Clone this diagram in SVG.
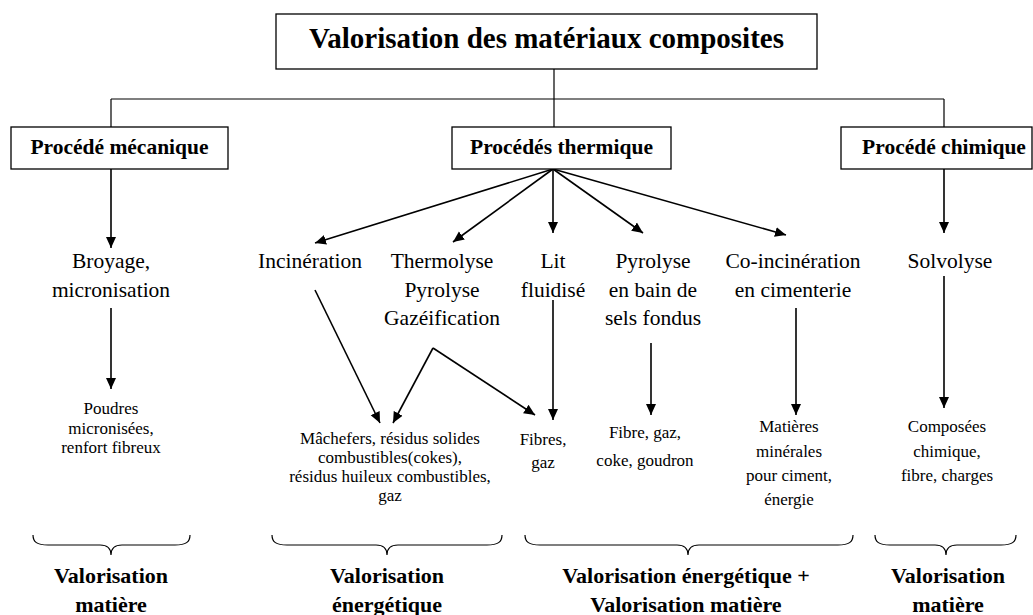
<svg xmlns="http://www.w3.org/2000/svg" width="1033" height="615" viewBox="0 0 1033 615">
<style>
text{font-family:'Liberation Serif',serif;fill:#000;text-anchor:middle}
.title{font-size:29px;font-weight:bold}
.box{fill:#fff;stroke:#000;stroke-width:1.3}
.hd{font-size:21.5px;font-weight:bold}
.lg{font-size:21.5px}
.sm{font-size:17px}
.bt{font-size:22px;font-weight:bold}
.ln{fill:none;stroke:#000;stroke-width:1.2}
.ar{fill:none;stroke:#000;stroke-width:1.6;marker-end:url(#ah)}
.br{fill:none;stroke:#000;stroke-width:1.2}
</style>
<defs>
<marker id="ah" markerUnits="userSpaceOnUse" markerWidth="12" markerHeight="12" viewBox="0 0 12 12" refX="11" refY="6" orient="auto">
<path d="M0,1 L11,6 L0,11 Z" fill="#000"/>
</marker>
</defs>
<g id="connectors">
<path class="ln" d="M554,69 V99 M111,99 H944 M111,99 V127 M554,99 V127 M944,99 V127"/>
<line class="ar" x1="111" y1="169" x2="111" y2="248"/>
<line class="ar" x1="111" y1="308" x2="111" y2="389"/>
<line class="ar" x1="553" y1="169" x2="315" y2="243"/>
<line class="ar" x1="553" y1="169" x2="453" y2="242"/>
<line class="ar" x1="553" y1="169" x2="553" y2="233"/>
<line class="ar" x1="553" y1="169" x2="643" y2="233"/>
<line class="ar" x1="553" y1="169" x2="786" y2="235"/>
<line class="ar" x1="944" y1="169" x2="944" y2="233"/>
<line class="ar" x1="315" y1="290" x2="380" y2="423"/>
<line class="ar" x1="433" y1="348" x2="393" y2="423"/>
<line class="ar" x1="433" y1="348" x2="535" y2="415"/>
<line class="ar" x1="553" y1="300" x2="553" y2="420"/>
<line class="ar" x1="651" y1="343" x2="651" y2="415"/>
<line class="ar" x1="796" y1="308" x2="796" y2="415"/>
<line class="ar" x1="944" y1="276" x2="944" y2="408"/>
</g>
<g id="title">
<rect class="box" x="276" y="14" width="541" height="55"/>
<text class="title" x="546.5" y="48">Valorisation des matériaux composites</text>
</g>
<g id="meca">
<rect class="box" x="11" y="127" width="217" height="42"/>
<text class="hd" x="119.5" y="154">Procédé mécanique</text>
</g>
<g id="thermique">
<rect class="box" x="452" y="127" width="219" height="42"/>
<text class="hd" x="561.5" y="154">Procédés thermique</text>
</g>
<g id="chimique">
<rect class="box" x="841" y="127" width="191" height="42"/>
<text class="hd" x="944" y="154">Procédé chimique</text>
</g>
<g id="broyage">
<text class="lg" x="111" y="268">Broyage,</text>
<text class="lg" x="111" y="297">micronisation</text>
</g>
<g id="incineration">
<text class="lg" x="310" y="268">Incinération</text>
</g>
<g id="thermolyse">
<text class="lg" x="442" y="268">Thermolyse</text>
<text class="lg" x="442" y="297">Pyrolyse</text>
<text class="lg" x="442" y="325">Gazéification</text>
</g>
<g id="lit">
<text class="lg" x="553" y="268">Lit</text>
<text class="lg" x="553" y="297">fluidisé</text>
</g>
<g id="pyrolyse">
<text class="lg" x="653" y="268">Pyrolyse</text>
<text class="lg" x="653" y="297">en bain de</text>
<text class="lg" x="653" y="325">sels fondus</text>
</g>
<g id="coincineration">
<text class="lg" x="793" y="268">Co-incinération</text>
<text class="lg" x="793" y="297">en cimenterie</text>
</g>
<g id="solvolyse">
<text class="lg" x="950" y="268">Solvolyse</text>
</g>
<g id="poudres">
<text class="sm" x="111" y="414">Poudres</text>
<text class="sm" x="111" y="434">micronisées,</text>
<text class="sm" x="111" y="453">renfort fibreux</text>
</g>
<g id="machefers">
<text class="sm" x="390" y="444">Mâchefers, résidus solides</text>
<text class="sm" x="390" y="463">combustibles(cokes),</text>
<text class="sm" x="390" y="482">résidus huileux combustibles,</text>
<text class="sm" x="390" y="501">gaz</text>
</g>
<g id="fibres">
<text class="sm" x="543" y="445">Fibres,</text>
<text class="sm" x="543" y="468">gaz</text>
</g>
<g id="fibre">
<text class="sm" x="645" y="438">Fibre, gaz,</text>
<text class="sm" x="645" y="466">coke, goudron</text>
</g>
<g id="matieres">
<text class="sm" x="789" y="432">Matières</text>
<text class="sm" x="789" y="457">minérales</text>
<text class="sm" x="789" y="481">pour ciment,</text>
<text class="sm" x="789" y="505">énergie</text>
</g>
<g id="composees">
<text class="sm" x="947" y="432">Composées</text>
<text class="sm" x="947" y="457">chimique,</text>
<text class="sm" x="947" y="481">fibre, charges</text>
</g>
<g id="braces">
<path class="br" d="M33,535 C33,542 37,545 48,545 L100,545 C107,545 111,548 111,555 C111,548 115,545 122,545 L175,545 C186,545 190,542 190,535"/>
<path class="br" d="M272,535 C272,542 276,545 287,545 L376,545 C383,545 387,548 387,555 C387,548 391,545 398,545 L487,545 C498,545 502,542 502,535"/>
<path class="br" d="M525,535 C525,542 529,545 540,545 L677,545 C684,545 688,548 688,555 C688,548 692,545 699,545 L838,545 C849,545 853,542 853,535"/>
<path class="br" d="M875,535 C875,542 879,545 890,545 L935,545 C942,545 946,548 946,555 C946,548 950,545 957,545 L1001,545 C1012,545 1016,542 1016,535"/>
</g>
<g id="val1">
<text class="bt" x="111" y="583">Valorisation</text>
<text class="bt" x="111" y="612">matière</text>
</g>
<g id="val2">
<text class="bt" x="387" y="583">Valorisation</text>
<text class="bt" x="387" y="612">énergétique</text>
</g>
<g id="val3">
<text class="bt" x="686" y="583">Valorisation énergétique +</text>
<text class="bt" x="686" y="612">Valorisation matière</text>
</g>
<g id="val4">
<text class="bt" x="948" y="583">Valorisation</text>
<text class="bt" x="948" y="612">matière</text>
</g>
</svg>
